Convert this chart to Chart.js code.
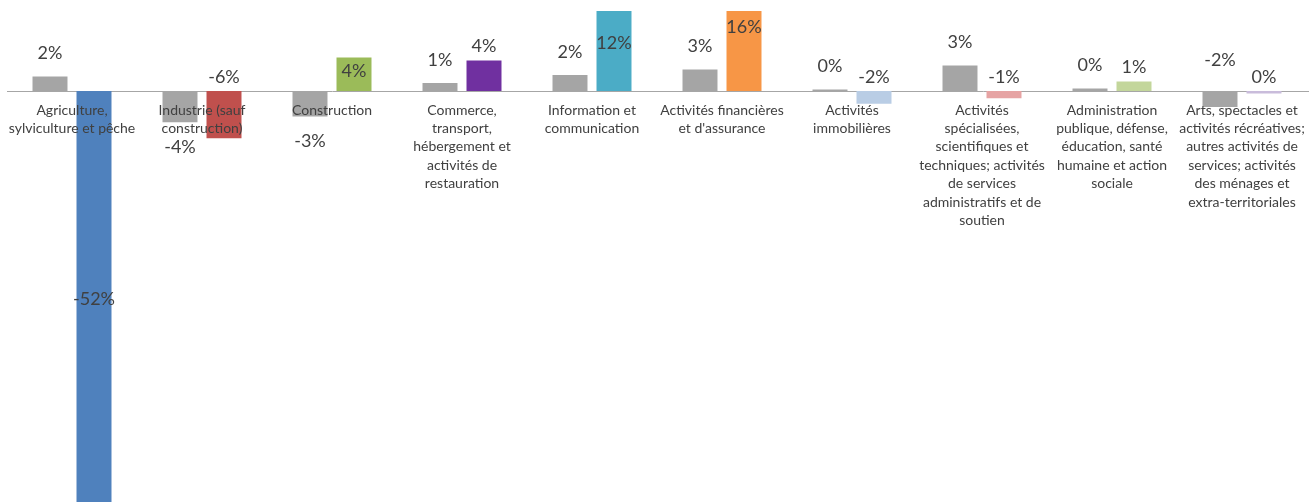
<!DOCTYPE html>
<html lang="fr">
<head>
<meta charset="utf-8">
<title>Variation par secteur d'activité</title>
<script src="https://cdn.jsdelivr.net/npm/chart.js@4/dist/chart.umd.min.js"></script>
<style>
  html,body{margin:0;padding:0;background:#fff;overflow:hidden;}
  #wrap{position:relative;width:1309px;height:502px;}
</style>
</head>
<body>
<div id="wrap"><canvas id="c"></canvas></div>
<script>
/* ---- data ---- */
const SECTORS = [
  ['Agriculture,', 'sylviculture et pêche'],
  ['Industrie (sauf', 'construction)'],
  ['Construction'],
  ['Commerce,', 'transport,', 'hébergement et', 'activités de', 'restauration'],
  ['Information et', 'communication'],
  ['Activités financières', "et d'assurance"],
  ['Activités', 'immobilières'],
  ['Activités', 'spécialisées,', 'scientifiques et', 'techniques; activités', 'de services', 'administratifs et de', 'soutien'],
  ['Administration', 'publique, défense,', 'éducation, santé', 'humaine et action', 'sociale'],
  ['Arts, spectacles et', 'activités récréatives;', 'autres activités de', 'services; activités', 'des ménages et', 'extra-territoriales']
];
const GREY_VALUES   = [1.8, -3.9, -3.2, 1.0, 2.0, 2.7, 0.2, 3.2, 0.3, -2.0];
const SECTOR_VALUES = [-52, -5.9, 4.2, 3.8, 12, 16, -1.6, -0.9, 1.2, -0.3];
const SECTOR_COLORS = ['#4f81bd','#c0504d','#9bbb59','#7030a0','#4bacc6','#f79646','#b9cde5','#e6a3a3','#c3d69b','#c9bcdb'];
const GREY = '#a5a5a5';
const Y_MIN = -51.375, Y_MAX = 10;

(function(){
  const $ = id => document.getElementById(id);
  const TXT = '#404040';
  const FONT = 'Lato, "Open Sans", sans-serif';

  /* zero axis line */
  const zeroLine = {
    id:'zeroLine',
    beforeDatasetsDraw(ch){
      const {ctx, chartArea:a} = ch;
      const y = Math.round(ch.scales.y.getPixelForValue(0)) + 0.5;
      ctx.save();
      ctx.strokeStyle = '#a6a6a6'; ctx.lineWidth = 1;
      ctx.beginPath(); ctx.moveTo(a.left, y); ctx.lineTo(a.right + 2, y); ctx.stroke();
      ctx.restore();
    }
  };

  /* category names sit just under the zero line, over the bars */
  const catLabels = {
    id:'catLabels',
    afterDatasetsDraw(ch){
      const {ctx} = ch;
      const y0 = ch.scales.y.getPixelForValue(0) + 19;
      ctx.save();
      ctx.font = '14px ' + FONT; ctx.fillStyle = TXT;
      ctx.textAlign = 'center'; ctx.textBaseline = 'middle';
      SECTORS.forEach((lines, i) => {
        const x = ch.scales.x.getPixelForValue(i);
        lines.forEach((t, k) => ctx.fillText(t, x, y0 + k * 18.4));
      });
      ctx.restore();
    }
  };

  /* value labels, placed like the original (a few were moved by hand) */
  const valLabels = {
    id:'valLabels',
    afterDatasetsDraw(ch, args, opts){
      const {ctx, chartArea:a} = ch;
      const zero = ch.scales.y.getPixelForValue(0);
      ctx.save();
      ctx.font = '18px ' + FONT; ctx.fillStyle = TXT;
      ctx.textAlign = 'center'; ctx.textBaseline = 'middle';
      ch.data.datasets.forEach((ds, d) => {
        ch.getDatasetMeta(d).data.forEach((el, i) => {
          const v = ds.data[i];
          let y;
          if (el.y < a.top || el.y > a.bottom) {
            // bar runs off the plot: label centred on the full bar
            y = (el.y + el.base) / 2;
          } else if (d === 0) {
            if (opts.greyAboveAxis.includes(i)) y = zero - 31;
            else y = v >= 0 ? el.y - 23 : el.y + 25;
          } else {
            if (opts.sectorInside.includes(i)) y = el.y + 14;
            else y = v >= 0 ? el.y - 14 : zero - 14;
          }
          ctx.fillText(`${Math.round(v)}%`, el.x, y);
        });
      });
      ctx.restore();
    }
  };

  new Chart($('c'), {
    type:'bar',
    data:{
      labels: SECTORS.map(l => l.join(' ')),
      datasets:[
        {label:'Ensemble', data:GREY_VALUES, backgroundColor:GREY, categoryPercentage:0.677, barPercentage:0.795},
        {label:'Secteur', data:SECTOR_VALUES, backgroundColor:SECTOR_COLORS, categoryPercentage:0.677, barPercentage:0.795}
      ]
    },
    options:{
      responsive:true, maintainAspectRatio:false, animation:false,
      layout:{padding:{left:7, right:2, top:11, bottom:0}},
      plugins:{
        legend:{display:false}, tooltip:{enabled:false},
        valLabels:{greyAboveAxis:[9], sectorInside:[2]}
      },
      scales:{
        x:{display:false, grid:{display:false}},
        y:{display:false, min:Y_MIN, max:Y_MAX, grid:{display:false}}
      }
    },
    plugins:[zeroLine, catLabels, valLabels]
  });
})();
</script>
</body>
</html>
